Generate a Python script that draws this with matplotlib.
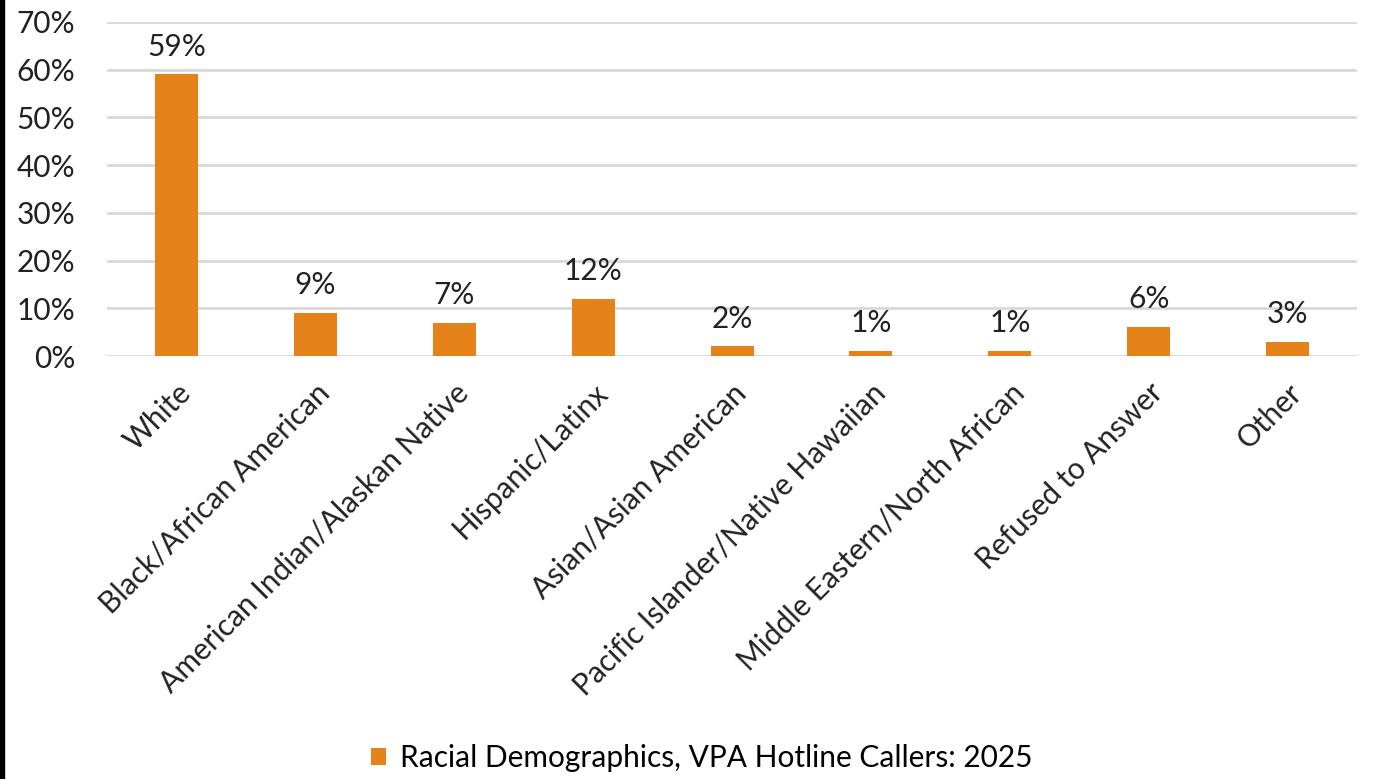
import matplotlib
matplotlib.use("Agg")
import matplotlib.pyplot as plt
from matplotlib.patches import Rectangle
from matplotlib.ticker import PercentFormatter

categories = ["White", "Black/African American", "American Indian/Alaskan Native",
              "Hispanic/Latinx", "Asian/Asian American", "Pacific Islander/Native Hawaiian",
              "Middle Eastern/North African", "Refused to Answer", "Other"]
values = [0.59, 0.09, 0.07, 0.12, 0.02, 0.01, 0.01, 0.06, 0.03]
series_name = "Racial Demographics, VPA Hotline Callers: 2025"

plt.rcParams['font.family'] = ['Lato', 'DejaVu Sans']
orange = '#E5821A'
fs = 21.5

fig = plt.figure(figsize=(13.76, 7.79), dpi=100)
ax = fig.add_axes([0.0778, 0.543, 0.9084, 0.4288])

x = range(len(categories))
bars = ax.bar(x, values, width=0.31, color=orange, label=series_name, zorder=3)
for b, v in zip(bars, values):
    ax.annotate(f"{v*100:.0f}%", (b.get_x() + b.get_width() / 2, v),
                xytext=(0, 10), textcoords='offset points',
                ha='center', va='bottom', fontsize=fs, color='#222222')

ax.set_xlim(-0.5, len(categories) - 0.5)
ax.set_ylim(0, 0.7)
ax.set_yticks([i / 10 for i in range(8)])
ax.yaxis.set_major_formatter(PercentFormatter(1.0, decimals=0))
ax.grid(axis='y', color='#d9d9d9', linewidth=2, zorder=0)
for s in ax.spines.values():
    s.set_visible(False)
ax.tick_params(axis='both', length=0, labelsize=fs, colors='#222222')
ax.tick_params(axis='y', pad=23)
ax.set_xticks(list(x))
ax.set_xticklabels(categories, rotation=45, ha='right', rotation_mode='anchor')
ax.tick_params(axis='x', pad=16)

fig.legend(handles=[bars], labels=[series_name], loc='lower center',
           bbox_to_anchor=(0.51, -0.026), frameon=False, fontsize=fs,
           handlelength=0.5, handleheight=0.5, handletextpad=0.5)

fig.add_artist(Rectangle((0, 0), 4 / 1376, 1, transform=fig.transFigure,
                         color='black', zorder=10))

fig.savefig("out.png", dpi=100)
